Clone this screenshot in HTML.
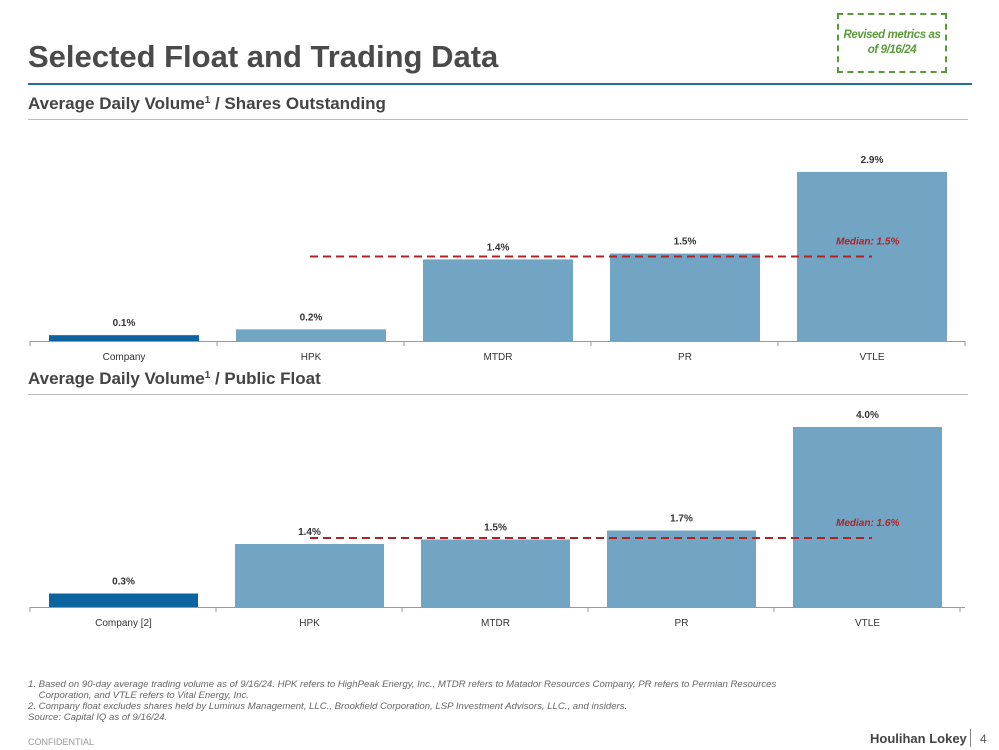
<!DOCTYPE html>
<html><head><meta charset="utf-8"><style>
body{margin:0;width:999px;height:750px;background:#fff;font-family:"Liberation Sans",Arial,sans-serif;position:relative;overflow:hidden}
.abs{position:absolute}
</style></head><body>
<div class="abs" style="left:28px;top:39px;font-size:31px;font-weight:bold;color:#4a4a4a">Selected Float and Trading Data</div>
<div class="abs" style="left:28px;top:83px;width:944px;height:2px;background:#1f6f9e"></div>
<div class="abs" style="left:837px;top:13px;width:106px;height:56px;border:2px dashed #5a9a3a;color:#5a9a3a;font-size:11.5px;font-weight:bold;font-style:italic;text-align:center;display:flex;align-items:center;justify-content:center;line-height:15px;letter-spacing:-0.4px;white-space:nowrap">Revised metrics as<br>of 9/16/24</div>
<svg class="abs" style="left:0;top:0" width="999" height="750">
<g id="c1"></g><g id="c2"></g>
</svg>
<div class="abs" style="left:28px;top:679px;font-size:9.6px;font-style:italic;color:#666;line-height:11px;white-space:nowrap">1. Based on 90-day average trading volume as of 9/16/24. HPK refers to HighPeak Energy, Inc., MTDR refers to Matador Resources Company, PR refers to Permian Resources<br>&nbsp;&nbsp;&nbsp;&nbsp;Corporation, and VTLE refers to Vital Energy, Inc.<br>2. Company float excludes shares held by Luminus Management, LLC., Brookfield Corporation, LSP Investment Advisors, LLC., and insiders.<br>Source: Capital IQ as of 9/16/24.</div>
<div class="abs" style="left:28px;top:737px;font-size:9px;color:#999">CONFIDENTIAL</div>
<div class="abs" style="left:870px;top:731px;font-size:13px;font-weight:bold;color:#444">Houlihan Lokey</div>
<div class="abs" style="left:970px;top:729px;width:1px;height:18px;background:#888"></div>
<div class="abs" style="left:980px;top:732px;font-size:12px;color:#555">4</div>
<script>
const cats1=["Company","HPK","MTDR","PR","VTLE"];
const vals1=[0.1,0.2,1.4,1.5,2.9];
const median1=1.5;
const cats2=["Company [2]","HPK","MTDR","PR","VTLE"];
const vals2=[0.3,1.4,1.5,1.7,4.0];
const median2=1.6;
const NS="http://www.w3.org/2000/svg";
function mk(p,t,a){const e=document.createElementNS(NS,t);for(const k in a)e.setAttribute(k,a[k]);p.appendChild(e);return e;}
function chart(g,title,titleY,cats,vals,med,base,scale,x0,step,bw){
 const t=mk(g,'text',{x:28,y:titleY,'font-size':17,'font-weight':'bold',fill:'#444'});
 
 
 t.innerHTML=title;
 const r=mk(g,'line',{x1:28,x2:968,y1:titleY+10.5,y2:titleY+10.5,stroke:'#bbb','stroke-width':1});
 
 
 const y=v=>base-v*scale;
 const ax=mk(g,'line',{x1:30,x2:965,y1:base+0.5,y2:base+0.5,stroke:'#999','stroke-width':1});
 
 
 for(let i=0;i<=cats.length;i++){const tx=30+i*step; const tk=mk(g,'line',{x1:tx,x2:tx,y1:base,y2:base+5,stroke:'#999'});
  
  }
 cats.forEach((c,i)=>{
  const bx=x0+i*step;
  const b=mk(g,'rect',{x:bx,y:y(vals[i]),width:bw,height:vals[i]*scale,fill:i==0?'#0b63a0':'#72a5c3'});
  
  
  const l=mk(g,'text',{x:bx+bw/2,y:y(vals[i])-9,'text-anchor':'middle','font-size':10,'font-weight':'bold',fill:'#333'});
  
  
  l.textContent=vals[i].toFixed(1)+'%';
  const cl=mk(g,'text',{x:bx+bw/2,y:base+19,'text-anchor':'middle','font-size':10,fill:'#333'});
  
  
  cl.textContent=c;
 });
 const ml=mk(g,'line',{x1:310,x2:872,y1:y(med)+3,y2:y(med)+3,stroke:'#b22222','stroke-width':2,'stroke-dasharray':'8,5'});
 
 
 const mt=mk(g,'text',{x:836,y:y(med)-9,'font-size':10,'font-weight':'bold','font-style':'italic',fill:'#b22222'});
 
 
 mt.textContent='Median: '+med.toFixed(1)+'%';
}
chart(document.getElementById('c1'),'Average Daily Volume<tspan font-size="10" dy="-6">1</tspan><tspan dy="6"> / Shares Outstanding</tspan>',109,cats1,vals1,median1,341,58.3,49,187,150);
chart(document.getElementById('c2'),'Average Daily Volume<tspan font-size="10" dy="-6">1</tspan><tspan dy="6"> / Public Float</tspan>',384,cats2,vals2,median2,607,45,49,186,149);
</script>
</body></html>
